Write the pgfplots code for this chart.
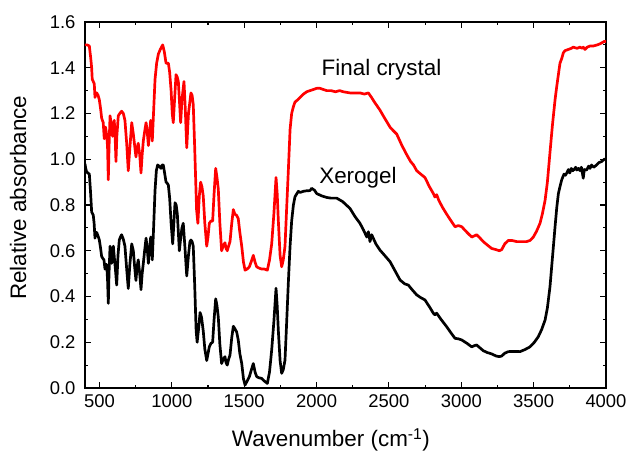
\documentclass[border=0pt]{standalone}
\usepackage{pgfplots}
\pgfplotsset{compat=1.18}
\usepackage{fontspec}
\setmainfont{Liberation Sans}
\begin{document}
\begin{tikzpicture}
\begin{axis}[
  at={(0,0)}, anchor=south west,
  scale only axis, width=521bp, height=366bp,
  xmin=400, xmax=4000, ymin=0, ymax=1.6,
  xtick={500,1000,...,4000}, ytick={0,0.2,...,1.6},
  minor x tick num=1, minor y tick num=1,
  tick align=inside, tick pos=both,
  major tick length=6bp, minor tick length=3.5bp,
  axis line style={line width=1.3pt}, every tick/.style={line width=1.1pt, black},
  tick label style={font=\fontsize{18.5}{22}\selectfont},
  /pgf/number format/assume math mode=true,
  xticklabel style={/pgf/number format/1000 sep={}, yshift=-3bp},
  yticklabel style={xshift=-6bp, /pgf/number format/fixed, /pgf/number format/fixed zerofill, /pgf/number format/precision=1},
  scaled ticks=false,
  xlabel={Wavenumber (cm\textsuperscript{-1})},
  ylabel={Relative absorbance},
  label style={font=\fontsize{22.5}{26}\selectfont},
  xlabel style={at={(axis description cs:0.472,0)}, anchor=center, yshift=-52bp},
  ylabel style={at={(axis description cs:-0.1286,0.52)}, anchor=center},
  clip=true,
]
\addplot[red, line width=2.7pt, line join=round] coordinates {
(400,1.50)(415,1.50)(430,1.495)(440,1.44)(446,1.40)(450,1.35)(457,1.34)(464,1.33)(469,1.27)(475,1.29)(481,1.29)(490,1.28)(499,1.26)(508,1.22)(515,1.18)(526,1.16)(533,1.09)(538,1.13)(542,1.14)(551,1.10)(556,1.05)(561,0.91)(566,1.05)(573,1.19)(580,1.16)(584,1.14)(591,1.10)(597,1.15)(602,1.17)(608,1.10)(614,0.99)(620,1.10)(630,1.19)(640,1.20)(653,1.21)(665,1.20)(676,1.17)(688,1.07)(699,0.95)(710,1.05)(723,1.16)(734,1.11)(743,1.06)(752,1.01)(760,1.05)(768,1.07)(778,1.02)(787,0.94)(795,1.02)(803,1.08)(812,1.12)(822,1.16)(830,1.12)(838,1.06)(846,1.12)(854,1.17)(860,1.14)(865,1.08)(872,1.18)(884,1.35)(895,1.42)(907,1.46)(920,1.48)(937,1.50)(948,1.47)(960,1.42)(968,1.42)(976,1.42)(985,1.38)(995,1.30)(1003,1.20)(1010,1.16)(1018,1.25)(1029,1.37)(1037,1.36)(1045,1.34)(1053,1.25)(1061,1.16)(1070,1.26)(1084,1.34)(1093,1.22)(1103,1.05)(1115,1.20)(1132,1.29)(1140,1.28)(1148,1.24)(1158,1.05)(1171,0.78)(1180,0.72)(1190,0.84)(1199,0.90)(1208,0.88)(1217,0.84)(1228,0.72)(1241,0.62)(1250,0.66)(1259,0.72)(1270,0.73)(1282,0.73)(1292,0.85)(1303,0.96)(1312,0.92)(1321,0.87)(1332,0.72)(1344,0.60)(1355,0.62)(1367,0.635)(1375,0.61)(1383,0.60)(1392,0.62)(1402,0.64)(1414,0.72)(1425,0.78)(1435,0.76)(1448,0.755)(1459,0.74)(1470,0.68)(1483,0.62)(1495,0.55)(1506,0.515)(1520,0.52)(1536,0.53)(1550,0.555)(1563,0.58)(1575,0.55)(1586,0.53)(1600,0.525)(1621,0.52)(1640,0.52)(1660,0.515)(1675,0.56)(1690,0.63)(1705,0.76)(1720,0.92)(1728,0.85)(1736,0.73)(1748,0.58)(1759,0.53)(1770,0.56)(1782,0.62)(1793,0.78)(1805,0.95)(1817,1.13)(1828,1.20)(1840,1.23)(1851,1.25)(1870,1.26)(1886,1.27)(1910,1.285)(1932,1.295)(1955,1.30)(2001,1.31)(2024,1.31)(2070,1.30)(2100,1.30)(2130,1.295)(2160,1.30)(2185,1.295)(2230,1.29)(2270,1.29)(2300,1.29)(2330,1.285)(2358,1.29)(2380,1.27)(2400,1.25)(2438,1.215)(2470,1.18)(2508,1.14)(2530,1.125)(2554,1.11)(2590,1.06)(2623,1.02)(2650,0.99)(2670,0.975)(2692,0.95)(2720,0.935)(2749,0.92)(2780,0.88)(2807,0.85)(2818,0.835)(2830,0.845)(2845,0.82)(2870,0.79)(2899,0.76)(2930,0.73)(2957,0.705)(2980,0.71)(3003,0.705)(3040,0.68)(3072,0.66)(3090,0.665)(3106,0.67)(3130,0.655)(3152,0.64)(3180,0.625)(3210,0.61)(3240,0.605)(3263,0.60)(3280,0.605)(3300,0.63)(3325,0.645)(3350,0.645)(3383,0.64)(3420,0.64)(3452,0.64)(3475,0.645)(3498,0.66)(3520,0.685)(3544,0.72)(3560,0.76)(3579,0.82)(3595,0.90)(3613,1.03)(3630,1.15)(3648,1.26)(3660,1.32)(3671,1.37)(3682,1.42)(3694,1.44)(3705,1.465)(3717,1.475)(3740,1.48)(3760,1.485)(3774,1.49)(3800,1.485)(3820,1.49)(3835,1.485)(3843,1.49)(3855,1.48)(3870,1.49)(3890,1.495)(3912,1.495)(3940,1.50)(3960,1.505)(3988,1.515)(4000,1.515)
};
\addplot[black, line width=2.7pt, line join=round] coordinates {
(400,0.98)(405,0.96)(411,0.945)(420,0.94)(430,0.935)(438,0.86)(446,0.77)(457,0.756)(463,0.72)(469,0.655)(475,0.68)(481,0.68)(490,0.665)(499,0.647)(508,0.61)(515,0.575)(525,0.565)(531,0.56)(538,0.52)(545,0.54)(550,0.54)(556,0.47)(561,0.37)(566,0.50)(573,0.62)(580,0.58)(584,0.545)(590,0.59)(596,0.62)(602,0.575)(610,0.52)(619,0.45)(628,0.58)(637,0.647)(645,0.66)(653,0.67)(665,0.65)(676,0.62)(688,0.52)(699,0.435)(710,0.54)(723,0.63)(734,0.60)(743,0.53)(752,0.47)(760,0.53)(768,0.56)(778,0.50)(787,0.43)(795,0.50)(803,0.545)(812,0.60)(822,0.655)(830,0.61)(838,0.545)(846,0.61)(854,0.66)(860,0.62)(865,0.56)(874,0.70)(884,0.865)(893,0.95)(902,0.975)(912,0.97)(925,0.96)(933,0.975)(941,0.975)(950,0.94)(960,0.90)(968,0.895)(976,0.887)(985,0.83)(995,0.72)(1006,0.63)(1014,0.72)(1022,0.81)(1030,0.80)(1038,0.76)(1045,0.68)(1052,0.60)(1062,0.66)(1070,0.70)(1079,0.72)(1090,0.62)(1103,0.49)(1115,0.58)(1125,0.64)(1132,0.647)(1140,0.64)(1148,0.62)(1158,0.45)(1168,0.25)(1175,0.20)(1185,0.26)(1195,0.33)(1205,0.31)(1217,0.25)(1228,0.17)(1241,0.12)(1250,0.15)(1259,0.18)(1270,0.195)(1282,0.20)(1292,0.30)(1303,0.39)(1312,0.36)(1321,0.31)(1332,0.19)(1344,0.107)(1355,0.125)(1367,0.137)(1375,0.11)(1383,0.10)(1392,0.125)(1402,0.144)(1414,0.22)(1425,0.27)(1435,0.26)(1448,0.245)(1459,0.21)(1470,0.15)(1483,0.107)(1495,0.04)(1506,0.013)(1520,0.03)(1536,0.05)(1550,0.08)(1563,0.107)(1575,0.07)(1586,0.05)(1600,0.045)(1621,0.042)(1640,0.03)(1660,0.02)(1675,0.07)(1690,0.166)(1705,0.29)(1720,0.436)(1728,0.36)(1736,0.25)(1748,0.12)(1759,0.064)(1770,0.08)(1782,0.122)(1793,0.28)(1805,0.46)(1817,0.62)(1828,0.73)(1840,0.80)(1851,0.836)(1874,0.86)(1886,0.855)(1910,0.86)(1930,0.862)(1955,0.863)(1966,0.873)(1985,0.865)(2001,0.85)(2035,0.84)(2070,0.833)(2100,0.83)(2139,0.83)(2180,0.815)(2231,0.785)(2265,0.75)(2300,0.72)(2325,0.69)(2347,0.66)(2358,0.683)(2365,0.66)(2369,0.64)(2381,0.67)(2410,0.63)(2438,0.603)(2470,0.58)(2508,0.552)(2540,0.515)(2577,0.472)(2610,0.455)(2634,0.45)(2660,0.43)(2692,0.407)(2720,0.395)(2749,0.385)(2780,0.355)(2807,0.327)(2818,0.32)(2830,0.327)(2860,0.30)(2899,0.268)(2930,0.24)(2957,0.217)(2980,0.215)(3003,0.21)(3040,0.195)(3072,0.18)(3090,0.185)(3106,0.188)(3130,0.175)(3152,0.163)(3180,0.155)(3210,0.149)(3240,0.14)(3263,0.137)(3280,0.14)(3300,0.152)(3325,0.159)(3360,0.16)(3406,0.159)(3440,0.168)(3475,0.18)(3505,0.20)(3532,0.224)(3555,0.255)(3579,0.297)(3595,0.35)(3613,0.443)(3630,0.57)(3648,0.705)(3660,0.79)(3671,0.85)(3682,0.88)(3694,0.91)(3700,0.92)(3710,0.935)(3720,0.93)(3729,0.94)(3740,0.955)(3750,0.94)(3760,0.96)(3770,0.95)(3780,0.955)(3790,0.965)(3798,0.953)(3810,0.96)(3820,0.95)(3830,0.965)(3843,0.917)(3850,0.955)(3866,0.953)(3880,0.97)(3890,0.96)(3900,0.975)(3915,0.965)(3935,0.975)(3950,0.985)(3970,0.99)(3988,1.0)(4000,1.0)
};
\node[anchor=base, font=\fontsize{22.5}{26}\selectfont] at (axis cs:2449,1.364) {Final crystal};
\node[anchor=base, font=\fontsize{22.5}{26}\selectfont] at (axis cs:2286,0.892) {Xerogel};
\end{axis}
\pgfresetboundingbox
\path (-85bp,-71bp) rectangle (543bp,388bp);
\end{tikzpicture}
\end{document}
